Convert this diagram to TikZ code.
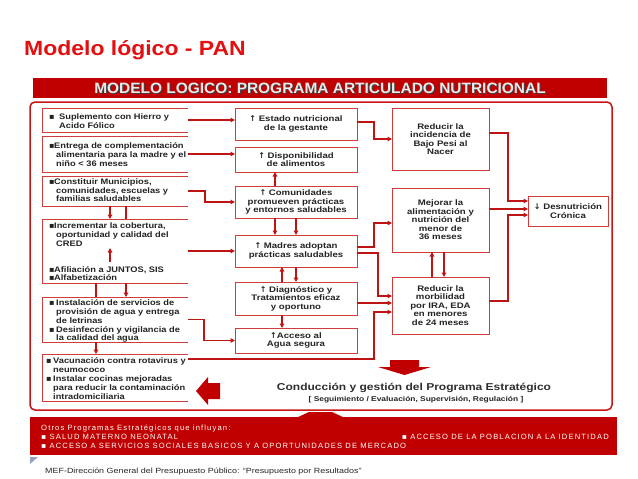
\documentclass[tikz,border=0pt]{standalone}
\usepackage{fontspec}
\setmainfont{Liberation Sans}
\usetikzlibrary{arrows.meta}
\newfontfamily\boxfont[FakeStretch=1.2]{Liberation Sans}
\newfontfamily\lboxfont[FakeStretch=1.16]{Liberation Sans}
\newfontfamily\symfont{DejaVu Sans}
\newfontfamily\titlefont[FakeStretch=1.12]{Liberation Sans}
\newfontfamily\headfont[FakeStretch=1.03]{Liberation Sans}
\newfontfamily\barfont[LetterSpace=15]{Liberation Sans}
\newfontfamily\footfont[FakeStretch=1.19]{Liberation Sans}
\definecolor{tred}{RGB}{226,16,16}
\definecolor{hred}{RGB}{192,0,0}
\definecolor{bred}{RGB}{206,60,60}
\definecolor{cred}{RGB}{190,20,20}
\definecolor{fred}{RGB}{200,20,20}
\definecolor{txt}{RGB}{35,35,35}
\definecolor{tri}{RGB}{150,162,192}
\newcommand\upa{{\symfont\bfseries ↑}}
\newcommand\dna{{\symfont\bfseries ↓}}
\newcommand\bl[1]{\makebox[#1][l]{\symfont ▪}}
\newcommand\openbox[1]{\draw[lline] (#1.north east) -- (#1.north west) -- (#1.south west) -- (#1.south east);}
\tikzset{
  lbox/.style={draw=none, inner sep=0pt, outer sep=0pt, minimum width=146pt},
  lline/.style={draw=bred, line width=0.9pt},
  ltext/.style={anchor=north west, align=left, inner sep=0pt, text=txt,
    font=\lboxfont\bfseries\fontsize{8}{8.8}\selectfont},
  mbox/.style={draw=bred, line width=0.9pt, inner sep=0pt, outer sep=0pt, align=center, text=txt,
    font=\boxfont\bfseries\fontsize{8}{8.5}\selectfont},
  conn/.style={draw=cred, line width=1.6pt, -{Triangle[length=4.5pt,width=4.5pt]}},
  plain/.style={draw=cred, line width=1.6pt},
  bartext/.style={inner sep=0pt, text=white, font=\barfont\fontsize{7.6}{8}\selectfont},
}
\begin{document}
\begin{tikzpicture}[x=1pt,y=-1pt]
\useasboundingbox (0,0) rectangle (638,479);
\fill[white] (0,0) rectangle (638,479);
% title
\node[anchor=base west, inner sep=0pt, text=tred, font=\titlefont\bfseries\fontsize{20.5}{24}\selectfont] (title) at (24,55) {Modelo lógico - PAN};
% header bar
\fill[hred] (33,78) rectangle (607,98);
\node[anchor=base, inner sep=0pt, text=black!75, font=\headfont\bfseries\fontsize{15}{18}\selectfont] (hshadow) at (321,94.4) {MODELO LOGICO: PROGRAMA ARTICULADO NUTRICIONAL};
\node[anchor=base, inner sep=0pt, text=black!8, font=\headfont\bfseries\fontsize{15}{18}\selectfont] (header) at (320,93.4) {MODELO LOGICO: PROGRAMA ARTICULADO NUTRICIONAL};
% frame
\draw[fred, line width=1.5pt, rounded corners=5pt] (30,102) rectangle (612,410);
% left boxes
\node[lbox, minimum height=24pt] (b1) at (115,120) {};
\node[lbox, minimum height=36pt] (b2) at (115,154) {};
\node[lbox, minimum height=30pt] (b3) at (115,191) {};
\node[lbox, minimum height=64pt] (b4) at (115,251) {};
\node[lbox, minimum height=45pt] (b5) at (115,319.5) {};
\node[lbox, minimum height=47pt] (b6) at (115,377.5) {};
\openbox{b1}\openbox{b2}\openbox{b3}\openbox{b4}\openbox{b5}\openbox{b6}
\node[ltext] (t1) at (49,113.4) {\bl{10pt}Suplemento con Hierro y\\\hspace*{10pt}Acido Fólico};
\node[ltext] (t2) at (49,142.7) {\bl{5pt}Entrega de complementación\\\hspace*{7pt}alimentaria para la madre y el\\\hspace*{7pt}niño < 36 meses};
\node[ltext] (t3) at (49,178.4) {\bl{5pt}Constituir Municipios,\\\hspace*{7pt}comunidades, escuelas y\\\hspace*{7pt}familias saludables};
\node[ltext] (t4a) at (49,222.7) {\bl{5pt}Incrementar la cobertura,\\\hspace*{7pt}oportunidad y calidad del\\\hspace*{7pt}CRED};
\node[ltext, font=\lboxfont\bfseries\fontsize{8}{7.9}\selectfont] (t4b) at (49,266.7) {\bl{5pt}Afiliación a JUNTOS, SIS\\\bl{5pt}Alfabetización};
\node[ltext, font=\lboxfont\bfseries\fontsize{8}{8.9}\selectfont] (t5) at (49,299.3) {\bl{7pt}Instalación de servicios de\\\hspace*{7pt}provisión de agua y entrega\\\hspace*{7pt}de letrinas\\\bl{7pt}Desinfección y vigilancia de\\\hspace*{7pt}la calidad del agua};
\node[ltext, font=\lboxfont\bfseries\fontsize{8}{8.9}\selectfont] (t6) at (46,357.5) {\bl{7pt}Vacunación contra rotavirus y\\\hspace*{7pt}neumococo\\\bl{7pt}Instalar cocinas mejoradas\\\hspace*{7pt}para reducir la contaminación\\\hspace*{7pt}intradomiciliaria};
% middle boxes
\node[mbox, minimum width=122pt, minimum height=32pt] (A) at (296,124) {\upa\ Estado nutricional\\de la gestante};
\node[mbox, minimum width=122pt, minimum height=25pt] (B) at (296,159.5) {\upa\ Disponibilidad\\de alimentos};
\node[mbox, minimum width=122pt, minimum height=32pt] (C) at (296,202) {\upa\ Comunidades\\promueven prácticas\\y entornos saludables};
\node[mbox, minimum width=122pt, minimum height=32pt] (D) at (296,251) {\upa\ Madres adoptan\\prácticas saludables};
\node[mbox, minimum width=122pt, minimum height=33pt] (E) at (296,298.5) {\upa\ Diagnóstico y\\Tratamientos eficaz\\y oportuno};
\node[mbox, minimum width=122pt, minimum height=25pt] (F) at (296,340.5) {\upa Acceso al\\Agua segura};
% right boxes
\node[mbox, minimum width=97pt, minimum height=62pt] (G) at (440.5,139) {Reducir la\\incidencia de\\Bajo Pesi al\\Nacer};
\node[mbox, minimum width=97pt, minimum height=64pt] (H) at (440.5,220) {Mejorar la\\alimentación y\\nutrición del\\menor de\\36 meses};
\node[mbox, minimum width=97pt, minimum height=57pt] (I) at (440.5,305.5) {Reducir la\\morbilidad\\por IRA, EDA\\en menores\\de 24 meses};
\node[mbox, minimum width=80pt, minimum height=30pt] (J) at (568,211) {\dna\ Desnutrición\\Crónica};
% helper coordinates
\coordinate (I1) at ([yshift=9.5pt]I.west);
\coordinate (I2) at ([yshift=2.5pt]I.west);
\coordinate (I3) at ([yshift=-6.5pt]I.west);
\coordinate (J1) at ([yshift=10pt]J.west);
\coordinate (J2) at ([yshift=2pt]J.west);
\coordinate (J3) at ([yshift=-4pt]J.west);
\coordinate (b6o) at ([yshift=-5pt]b6.north east);
\coordinate (u1) at (110,262);
\coordinate (u2) at (110,248);
% left to middle
\draw[conn] (b1.east) -- (b1.east -| A.west);
\draw[conn] (b2.east) -- (b2.east -| B.west);
\draw[conn] (b3.east) -- ++(17,0) |- (C.west);
\draw[conn] (b4.east) -- (D.west);
\draw[conn] (b5.east) -- ++(16,0) |- (F.west);
\draw[conn] (b6o) -- ++(186,0) |- (I3);
% middle to right
\draw[conn] ([yshift=2pt]A.east) -- ++(17,0) |- (G.west);
\draw[conn] ([yshift=4pt]D.east) -- ++(17,0) |- ([yshift=-3pt]H.west);
\draw[conn] ([yshift=-2pt]D.east) -- ++(21,0) |- (I1);
\draw[conn] (E.east |- I2) -- (I2);
% right to J
\draw[conn] ([yshift=6pt]G.east) -- ++(19,0) |- (J1);
\draw[conn] (H.east |- J2) -- (J2);
\draw[conn] ([yshift=4.5pt]I.east) -- ++(19,0) |- (J3);
% left verticals
\draw[conn] ([xshift=-5pt]b3.south) -- ([xshift=-5pt]b4.north);
\draw[plain] ([xshift=11pt]b3.south) -- ([xshift=11pt]b4.north);
\draw[conn] (u1) -- (u2);
\draw[plain] ([xshift=-19pt]b4.south) -- ([xshift=-19pt]b5.north);
\draw[conn] ([xshift=11pt]b4.south) -- ([xshift=11pt]b5.north);
\draw[conn] ([xshift=-19pt]b5.south) -- ([xshift=-19pt]b6.north);
% middle verticals
\draw[conn] ([xshift=-21pt]C.north) -- ([xshift=-21pt]B.south);
\draw[conn] ([xshift=-21pt]C.south) -- ([xshift=-21pt]D.north);
\draw[conn] (C.south) -- (D.north);
\draw[conn] ([xshift=-14pt]E.north) -- ([xshift=-14pt]D.south);
\draw[conn] (D.south) -- (E.north);
\draw[conn] ([xshift=-14pt]E.south) -- ([xshift=-14pt]F.north);
% right verticals
\draw[conn] ([xshift=-8.5pt]I.north) -- ([xshift=-8.5pt]H.south);
\draw[conn] ([xshift=3.5pt]H.south) -- ([xshift=3.5pt]I.north);
% block arrows
\fill[hred] (390,360) -- (419,360) -- (419,367) -- (431,367) -- (404.5,375) -- (378,367) -- (390,367) -- cycle;
\fill[hred] (196,391) -- (208,377) -- (208,383) -- (220,383) -- (220,399) -- (208,399) -- (208,405) -- cycle;
% conduccion
\node[anchor=base, inner sep=0pt, text=black!82, font=\boxfont\bfseries\fontsize{10}{12}\selectfont] (cond) at (414,390.6) {Conducción y gestión del Programa Estratégico};
\node[anchor=base, inner sep=0pt, text=black!85, font=\boxfont\bfseries\fontsize{7}{9}\selectfont] (seg) at (416,401.5) {[ Seguimiento / Evaluación, Supervisión, Regulación ]};
% bottom bar
\fill[hred] (30,417) rectangle (617,455);
\fill[hred] (296,418) -- (309,412) -- (332,412) -- (345,418) -- cycle;
\node[bartext, anchor=base west] (o1) at (41,430) {Otros Programas Estratégicos que influyan:};
\node[bartext, anchor=base west] (o2) at (41,439.5) {{\symfont ▪} SALUD MATERNO NEONATAL};
\node[bartext, anchor=base west] (o3) at (41,448) {{\symfont ▪} ACCESO A SERVICIOS SOCIALES BASICOS Y A OPORTUNIDADES DE MERCADO};
\node[bartext, anchor=base east] (o4) at (609,439.5) {{\symfont ▪} ACCESO DE LA POBLACION A LA IDENTIDAD};
% footer
\fill[tri] (30,457) -- (38,457) -- (30,464) -- cycle;
\node[anchor=base west, inner sep=0pt, text=black!85, font=\footfont\fontsize{7.5}{9}\selectfont] (foot) at (45,473) {MEF-Dirección General del Presupuesto Público: “Presupuesto por Resultados”};
\end{tikzpicture}
\end{document}
